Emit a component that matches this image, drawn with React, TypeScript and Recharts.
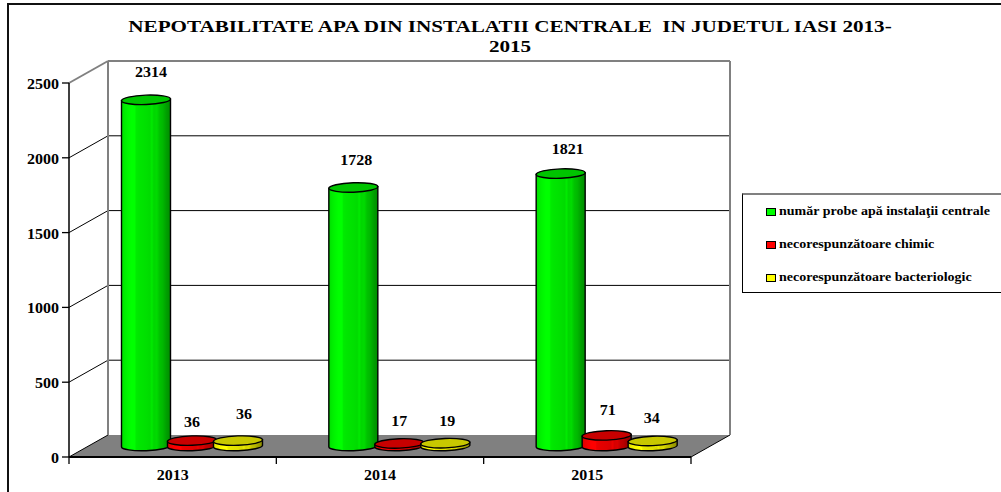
import { BarChart, Bar, XAxis, YAxis, CartesianGrid, LabelList, Legend } from 'recharts';

const categories = ['2013', '2014', '2015'];
const probe = [2314, 1728, 1821];
const chimic = [36, 17, 71];
const bacterio = [36, 19, 34];
const yTicks = [0, 500, 1000, 1500, 2000, 2500];

const seriesNames = [
  'număr probe apă instalaţii centrale',
  'necorespunzătoare chimic',
  'necorespunzătoare bacteriologic',
];

const data = categories.map((label, i) => ({
  label,
  probe: probe[i],
  chimic: chimic[i],
  bacterio: bacterio[i],
}));

// depth of the fake 3D box
const DX = 39;
const DY = -22;
const PLOT_TOP = 83;
const PLOT_BOTTOM = 457;
const BAND = 622 / 3;
const FONT = '"Liberation Serif", "Times New Roman", serif';
const DIGIT = 8; // the original text is stretched sideways
const TILT = 2; // degrees, the cylinder ends lean a little

// small hand nudges so labels sit where the original put them
const labelNudge: Record<string, Array<[number, number]>> = {
  probe: [[5, -23], [3, -22], [7, -20]],
  chimic: [[0, -14], [0, -17], [1, -20]],
  bacterio: [[6, -22], [2, -17], [-1, -18]],
};

const bands: Array<[number, number]> = [
  [0, 0.86], [0.06, 0.92], [0.12, 0.96], [0.2, 1], [0.27, 1], [0.3, 0.92], [0.36, 0.9],
  [0.5, 0.88], [0.58, 0.86], [0.62, 0.92], [0.66, 0.84], [0.72, 0.86], [0.78, 0.76],
  [0.84, 0.72], [0.92, 0.62], [1, 0.55],
];

const palette: Record<string, { rgb: number[]; top: string }> = {
  probe: { rgb: [0, 255, 0], top: '#00c400' },
  chimic: { rgb: [255, 0, 0], top: '#c80000' },
  bacterio: { rgb: [255, 255, 0], top: '#c8c800' },
};

function shade(rgb: number[], f: number) {
  return `rgb(${rgb.map((c) => Math.round(c * f)).join(',')})`;
}

const Num = ({ x, y, anchor, children }: any) => (
  <text
    x={x}
    y={y}
    textAnchor={anchor}
    fontFamily={FONT}
    fontWeight="bold"
    fontSize={14}
    fill="#000"
    textLength={String(children).length * DIGIT}
    lengthAdjust="spacingAndGlyphs"
  >
    {children}
  </text>
);

const Cylinder = (dataKey: string) => (props: any) => {
  const { x, y, width, height } = props;
  const rx = width / 2;
  const ry = 4.7;
  const cx = x + rx + DX / 2;
  const top = y + DY / 2;
  const bottom = top + height;
  const lean = rx * Math.sin((TILT * Math.PI) / 180);
  const body = `M${cx - rx},${top + lean} L${cx - rx},${bottom + lean} A${rx},${ry} ${-TILT} 0 0 ${cx + rx},${bottom - lean} L${cx + rx},${top - lean} Z`;
  return (
    <g>
      <path d={body} fill={`url(#cyl-${dataKey})`} stroke="#000" strokeWidth={1.4} />
      <ellipse
        cx={cx}
        cy={top}
        rx={rx}
        ry={ry}
        transform={`rotate(${-TILT} ${cx} ${top})`}
        fill={palette[dataKey].top}
        stroke="#000"
        strokeWidth={1.4}
      />
    </g>
  );
};

const ValueLabel = (dataKey: string) => (props: any) => {
  const { x, y, width, value, index } = props;
  const [nx, ny] = labelNudge[dataKey][index];
  return (
    <Num x={x + width / 2 + DX / 2 + nx} y={y + DY / 2 + ny} anchor="middle">
      {value}
    </Num>
  );
};

const GridLine = (props: any) => {
  const { x1, x2, y1 } = props;
  const isTop = Math.abs(y1 - PLOT_TOP) < 1;
  const isFloor = Math.abs(y1 - PLOT_BOTTOM) < 1;
  const color = isTop ? '#808080' : '#000';
  const width = isTop ? 2 : 1;
  return (
    <g>
      {isFloor && (
        <polygon
          points={`${x1},${y1} ${x1 + DX},${y1 + DY} ${x2 + DX},${y1 + DY} ${x2},${y1}`}
          fill="#808080"
        />
      )}
      {isFloor && <line x1={x2} y1={y1} x2={x2 + DX} y2={y1 + DY} stroke="#000" />}
      {isTop && (
        <g stroke="#808080" strokeWidth={2}>
          <line x1={x1 + DX} y1={y1 + DY} x2={x1 + DX} y2={PLOT_BOTTOM + DY} />
          <line x1={x2 + DX} y1={y1 + DY} x2={x2 + DX} y2={PLOT_BOTTOM + DY} />
        </g>
      )}
      <line x1={x1} y1={y1} x2={x1 + DX} y2={y1 + DY} stroke={color} strokeWidth={width} />
      {!isFloor && <line x1={x1 + DX} y1={y1 + DY} x2={x2 + DX} y2={y1 + DY} stroke={color} strokeWidth={width} />}
    </g>
  );
};

const YearTick = (props: any) => {
  const { x, y, payload, index } = props;
  return (
    <g>
      <line x1={x - BAND / 2} y1={y - 8} x2={x - BAND / 2} y2={y - 1} stroke="#000" strokeWidth={1.3} />
      {index === categories.length - 1 && (
        <line x1={x + BAND / 2} y1={y - 8} x2={x + BAND / 2} y2={y - 1} stroke="#000" strokeWidth={1.3} />
      )}
      <Num x={x} y={y + 15} anchor="middle">
        {payload.value}
      </Num>
    </g>
  );
};

const ValueTick = (props: any) => {
  const { x, y, payload } = props;
  return (
    <Num x={x} y={y + 6} anchor="end">
      {payload.value}
    </Num>
  );
};

const LegendBox = ({ payload }: any) => (
  <div
    style={{
      boxSizing: 'border-box',
      width: 262,
      height: 100,
      borderLeft: '1px solid #000',
      borderBottom: '1px solid #000',
      borderTop: '2px solid #808080',
    }}
  >
    {(payload || []).map((item: any) => (
      <div
        key={item.value}
        style={{
          height: 33,
          display: 'flex',
          alignItems: 'center',
          paddingLeft: 23,
          fontFamily: FONT,
          fontWeight: 'bold',
          fontSize: 12,
          whiteSpace: 'nowrap',
        }}
      >
        <span
          style={{
            display: 'inline-block',
            boxSizing: 'border-box',
            width: 10,
            height: 8,
            marginRight: 3,
            background: item.color,
            border: '1px solid #000',
          }}
        />
        <span style={{ display: 'inline-block', transform: 'scaleX(1.166)', transformOrigin: 'left center' }}>
          {item.value}
        </span>
      </div>
    ))}
  </div>
);

const seriesKeys = ['probe', 'chimic', 'bacterio'];

export default function App() {
  return (
    <div style={{ position: 'absolute', left: 0, top: 0, width: 1001, height: 492, background: '#fff', overflow: 'hidden' }}>
      <div
        style={{
          position: 'absolute',
          left: 7,
          top: 3,
          width: 1000,
          height: 500,
          borderLeft: '2px solid #111',
          borderTop: '2px solid #111',
        }}
      />
      <div
        style={{
          position: 'absolute',
          left: 60,
          top: 17,
          width: 900,
          textAlign: 'center',
          fontFamily: FONT,
          fontWeight: 'bold',
          fontSize: 16,
          lineHeight: '20px',
          whiteSpace: 'pre',
          color: '#000',
          transform: 'scaleX(1.32)',
        }}
      >
        {'NEPOTABILITATE APA DIN INSTALATII CENTRALE  IN JUDETUL IASI 2013-\n2015'}
      </div>
      <BarChart
        width={1001}
        height={492}
        data={data}
        barSize={49}
        barGap={-3}
        margin={{ top: PLOT_TOP, right: 48, left: 0, bottom: 0 }}
        style={{ position: 'absolute', left: 0, top: 0 }}
      >
        <defs>
          {seriesKeys.map((key) => (
            <linearGradient key={key} id={`cyl-${key}`} x1="0" y1="0" x2="1" y2="0">
              {bands.map(([offset, f]) => (
                <stop key={offset} offset={offset} stopColor={shade(palette[key].rgb, f)} />
              ))}
            </linearGradient>
          ))}
        </defs>
        <CartesianGrid vertical={false} horizontal={GridLine} />
        <XAxis
          dataKey="label"
          height={35}
          axisLine={{ stroke: '#000', strokeWidth: 2 }}
          tickLine={false}
          tick={YearTick}
          interval={0}
        />
        <YAxis
          width={69}
          domain={[0, 2500]}
          ticks={yTicks}
          interval={0}
          axisLine={{ stroke: '#000', strokeWidth: 1.5 }}
          tickLine={{ stroke: '#000', strokeWidth: 1.3 }}
          tickSize={7}
          tickMargin={3}
          tick={ValueTick}
        />
        <Legend
          layout="vertical"
          align="right"
          verticalAlign="top"
          itemSorter={(item: any) => seriesNames.indexOf(item.value)}
          wrapperStyle={{ left: 742, right: 'auto', top: 193, width: 262 }}
          content={<LegendBox />}
        />
        {seriesKeys.map((key, i) => (
          <Bar
            key={key}
            dataKey={key}
            name={seriesNames[i]}
            fill={`rgb(${palette[key].rgb.join(',')})`}
            shape={Cylinder(key)}
            isAnimationActive={false}
          >
            <LabelList dataKey={key} content={ValueLabel(key)} />
          </Bar>
        ))}
      </BarChart>
    </div>
  );
}
